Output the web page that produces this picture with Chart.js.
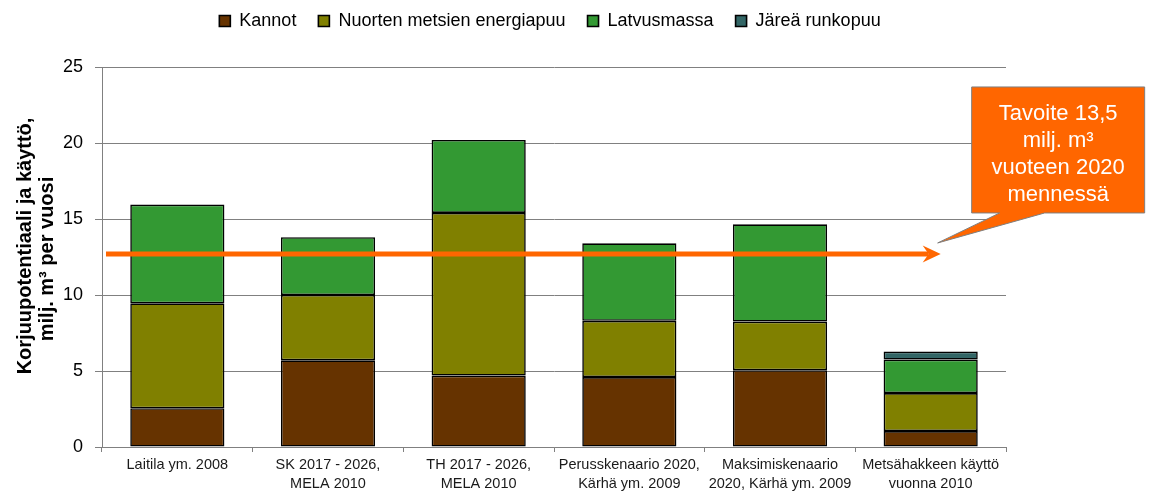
<!DOCTYPE html>
<html>
<head>
<meta charset="utf-8">
<script src="https://cdn.jsdelivr.net/npm/chart.js@4.4.1/dist/chart.umd.min.js"></script>
<style>
  html, body { margin: 0; padding: 0; background: #fff; }
  #wrap { width: 1151px; height: 494px; }
</style>
</head>
<body>
<div id="wrap"><canvas id="c" width="1151" height="494"></canvas></div>
<script>
// ---- data ----
const categories = [
  ["Laitila ym. 2008"],
  ["SK 2017 - 2026,", "MELA 2010"],
  ["TH 2017 - 2026,", "MELA 2010"],
  ["Perusskenaario 2020,", "Kärhä ym. 2009"],
  ["Maksimiskenaario", "2020, Kärhä ym. 2009"],
  ["Metsähakkeen käyttö", "vuonna 2010"]
];
const kannot = [2.55, 5.7, 4.7, 4.6, 5.05, 1.05];
const nuortenEnergiapuu = [6.9, 4.3, 10.7, 3.7, 3.2, 2.5];
const latvusmassa = [6.5, 3.8, 4.8, 5.1, 6.4, 2.2];
const jareaRunkopuu = [null, null, null, null, null, 0.53];
const seriesLabels = ["Kannot", "Nuorten metsien energiapuu", "Latvusmassa", "Järeä runkopuu"];
const seriesColors = ["#663300", "#808000", "#339933", "#336666"];
const yTicks = [0, 5, 10, 15, 20, 25];
const targetLevel = 12.7;
const calloutLines = ["Tavoite 13,5", "milj. m³", "vuoteen 2020", "mennessä"];
const yTitle = ["Korjuupotentiaali ja käyttö,", "milj. m³ per vuosi"];

const seriesData = [kannot, nuortenEnergiapuu, latvusmassa, jareaRunkopuu];

const overlayPlugin = {
  id: 'overlay',
  afterLayout(chart) {
    const lg = chart.legend;
    if (lg) { lg.top -= 10; lg.bottom -= 10; }
  },
  afterDatasetsDraw(chart) {
    const ctx = chart.ctx;
    const xs = chart.scales.x, ys = chart.scales.y;
    const area = chart.chartArea;
    const y = ys.getPixelForValue(targetLevel);
    const tipX = xs.getPixelForValue(categories.length - 1) + 10;
    const startX = area.left + 4;
    ctx.save();
    // arrow shaft
    ctx.strokeStyle = '#FF6600';
    ctx.lineWidth = 5;
    ctx.beginPath();
    ctx.moveTo(startX, y);
    ctx.lineTo(tipX - 12, y);
    ctx.stroke();
    // arrow head
    ctx.fillStyle = '#FF6600';
    ctx.beginPath();
    ctx.moveTo(tipX, y);
    ctx.lineTo(tipX - 18, y - 8.5);
    ctx.lineTo(tipX - 12, y);
    ctx.lineTo(tipX - 18, y + 8.5);
    ctx.closePath();
    ctx.fill();

    // callout
    const bl = tipX + 31, br = tipX + 204, bt = y - 167, bb = y - 41;
    const tx = tipX - 3, ty = y - 11;
    ctx.fillStyle = '#FF6600';
    ctx.strokeStyle = '#7f7f7f';
    ctx.lineWidth = 1;
    ctx.beginPath();
    ctx.moveTo(bl, bt);
    ctx.lineTo(br, bt);
    ctx.lineTo(br, bb);
    ctx.lineTo(bl + 73, bb);
    ctx.lineTo(tx, ty);
    ctx.lineTo(bl + 28, bb);
    ctx.lineTo(bl, bb);
    ctx.closePath();
    ctx.fill();
    ctx.stroke();
    ctx.fillStyle = '#ffffff';
    ctx.font = '22px Arial, "Liberation Sans", sans-serif';
    ctx.textAlign = 'center';
    ctx.textBaseline = 'middle';
    const cx = (bl + br) / 2;
    calloutLines.forEach((t, i) => {
      ctx.fillText(t, cx, bt + 27 + i * 27);
    });
    ctx.restore();
  },
  afterDraw(chart) {
    // rotated y-axis title
    const ctx = chart.ctx;
    const area = chart.chartArea;
    const mid = (area.top + area.bottom) / 2;
    const pos = [[25, mid - 11], [47, mid + 2]];
    yTitle.forEach((t, i) => {
      ctx.save();
      ctx.fillStyle = '#000';
      ctx.font = 'bold 20px Arial, "Liberation Sans", sans-serif';
      ctx.textAlign = 'center';
      ctx.textBaseline = 'middle';
      ctx.translate(pos[i][0], pos[i][1]);
      ctx.rotate(-Math.PI / 2);
      ctx.fillText(t, 0, 0);
      ctx.restore();
    });
  }
};

const chart = new Chart(document.getElementById('c'), {
  type: 'bar',
  data: {
    labels: categories,
    datasets: seriesData.map((d, i) => ({
      label: seriesLabels[i],
      data: d,
      backgroundColor: seriesColors[i],
      borderColor: '#000000',
      borderWidth: 1.6,
      borderSkipped: false,
      barPercentage: 0.625,
      categoryPercentage: 1.0,
      xAxisID: 'x',
      yAxisID: 'y'
    }))
  },
  options: {
    responsive: false,
    animation: false,
    devicePixelRatio: 1,
    layout: { padding: { left: 0, right: 51, top: 0, bottom: 0 } },
    plugins: {
      legend: {
        position: 'top',
        labels: {
          boxWidth: 11,
          boxHeight: 11,
          padding: 22,
          color: '#000',
          font: { family: 'Arial, "Liberation Sans", sans-serif', size: 18 }
        }
      },
      tooltip: { enabled: false }
    },
    scales: {
      x: {
        stacked: true,
        position: 'bottom',
        grid: { drawOnChartArea: false, drawTicks: true, tickLength: 5, color: '#808080' },
        border: { color: '#808080', width: 1 },
        ticks: {
          color: '#1a1a1a',
          maxRotation: 0,
          autoSkip: false,
          padding: 3,
          font: { family: 'Arial, "Liberation Sans", sans-serif', size: 14.5, lineHeight: 1.35 }
        },
        afterFit(s) { s.height = 47; }
      },
      xTop: {
        type: 'linear', axis: 'x', position: 'top', display: true,
        grid: { display: false }, border: { display: false }, ticks: { display: false },
        afterFit(s) { const lg = s.chart.legend; s.height = 67 - (lg ? lg.height : 0); }
      },
      y: {
        stacked: true,
        min: 0, max: 25,
        afterBuildTicks(s) { s.ticks = yTicks.map(v => ({ value: v })); },
        grid: { color: '#808080', lineWidth: 1, tickLength: 7 },
        border: { color: '#808080', width: 1 },
        ticks: {
          color: '#000',
          padding: 12,
          font: { family: 'Arial, "Liberation Sans", sans-serif', size: 18 }
        },
        title: { display: false },
        afterFit(s) { s.width = 102; }
      },
      yRight: {
        type: 'linear', axis: 'y', position: 'right', display: true,
        grid: { display: false }, border: { display: false }, ticks: { display: false },
        afterFit(s) { s.width = 94; }
      }
    }
  },
  plugins: [overlayPlugin]
});
</script>
</body>
</html>
